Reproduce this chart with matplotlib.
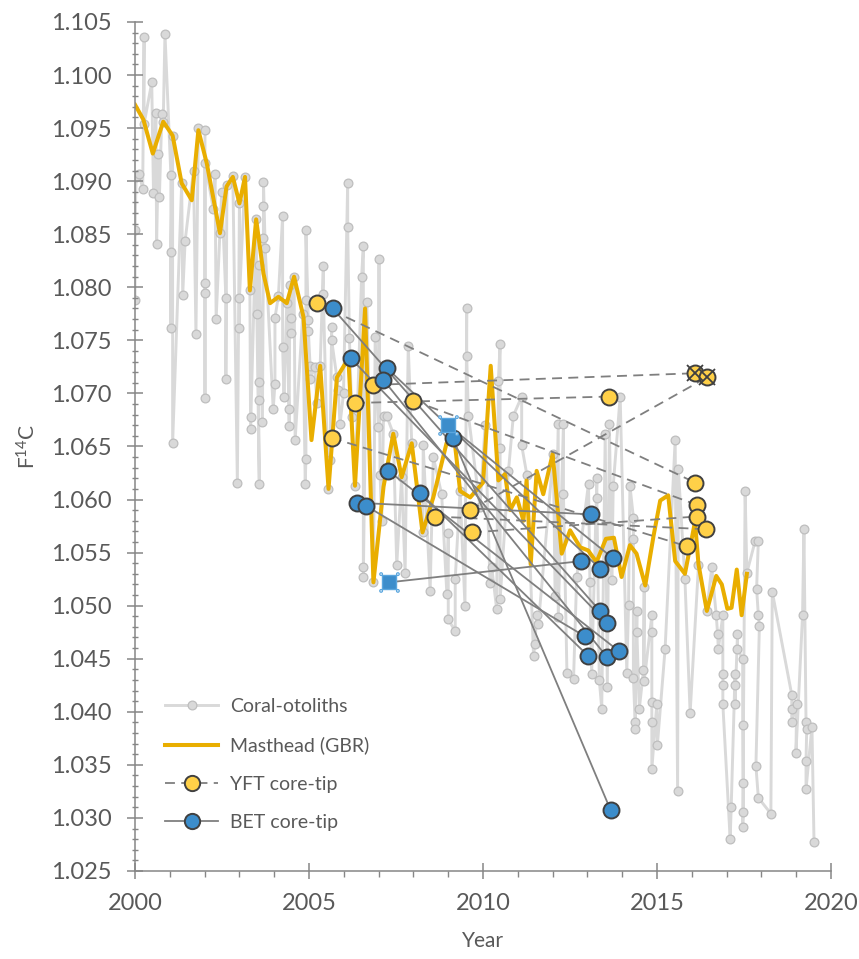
import matplotlib
matplotlib.use("Agg")
import matplotlib.pyplot as plt
from matplotlib.lines import Line2D
from matplotlib.path import Path
from matplotlib.ticker import MultipleLocator, FormatStrFormatter

plt.rcParams['font.family'] = ['Lato', 'DejaVu Sans']
plt.rcParams['mathtext.fontset'] = 'custom'
plt.rcParams['mathtext.rm'] = 'Lato'

# Coral-otolith reference series (year, F14C)
coral_year = [
    2000.00, 2000.00, 2000.03, 2000.12, 2000.22, 2000.26, 2000.26, 2000.48, 2000.53, 2000.60,
    2000.62, 2000.67, 2000.70, 2000.77, 2000.81, 2000.86, 2001.03, 2001.03, 2001.03, 2001.08,
    2001.08, 2001.34, 2001.37, 2001.44, 2001.68, 2001.75, 2001.82, 2002.01, 2002.01, 2002.01,
    2002.01, 2002.01, 2002.25, 2002.30, 2002.33, 2002.44, 2002.49, 2002.61, 2002.61, 2002.64,
    2002.81, 2002.94, 2003.00, 2003.00, 2003.00, 2003.16, 2003.30, 2003.32, 2003.32, 2003.48,
    2003.50, 2003.57, 2003.55, 2003.57, 2003.57, 2003.66, 2003.69, 2003.69, 2003.69, 2003.74,
    2003.97, 2004.02, 2004.02, 2004.12, 2004.24, 2004.24, 2004.28, 2004.36, 2004.43, 2004.43,
    2004.45, 2004.48, 2004.48, 2004.57, 2004.60, 2004.82, 2004.89, 2004.91, 2004.91, 2004.91,
    2004.98, 2004.98, 2005.03, 2005.03, 2005.17, 2005.22, 2005.32, 2005.41, 2005.41, 2005.55,
    2005.60, 2005.65, 2005.65, 2005.80, 2005.84, 2005.89, 2005.99, 2006.11, 2006.11, 2006.16,
    2006.23, 2006.32, 2006.51, 2006.56, 2006.56, 2006.56, 2006.66, 2006.85, 2006.90, 2006.99,
    2007.01, 2007.04, 2007.09, 2007.14, 2007.23, 2007.42, 2007.52, 2007.66, 2007.76, 2007.85,
    2007.95, 2008.27, 2008.28, 2008.48, 2008.57, 2008.81, 2008.96, 2009.00, 2009.00, 2009.20,
    2009.20, 2009.34, 2009.48, 2009.53, 2009.53, 2009.58, 2009.91, 2010.06, 2010.20, 2010.25,
    2010.39, 2010.44, 2010.49, 2010.49, 2010.49, 2010.73, 2010.87, 2011.11, 2011.11, 2011.26,
    2011.45, 2011.49, 2011.54, 2011.59, 2012.02, 2012.07, 2012.16, 2012.16, 2012.31, 2012.31,
    2012.41, 2012.60, 2012.69, 2013.03, 2013.07, 2013.12, 2013.27, 2013.27, 2013.34, 2013.41,
    2013.51, 2013.57, 2013.63, 2013.70, 2013.74, 2013.94, 2014.13, 2014.18, 2014.22, 2014.32,
    2014.32, 2014.32, 2014.37, 2014.37, 2014.42, 2014.42, 2014.49, 2014.61, 2014.63, 2014.63,
    2014.85, 2014.85, 2014.85, 2014.85, 2014.85, 2014.99, 2015.01, 2015.23, 2015.52, 2015.59,
    2015.61, 2015.80, 2015.95, 2016.19, 2016.43, 2016.57, 2016.70, 2016.74, 2016.76, 2016.89,
    2016.89, 2016.89, 2016.89, 2017.10, 2017.13, 2017.24, 2017.24, 2017.24, 2017.31, 2017.31,
    2017.46, 2017.46, 2017.48, 2017.48, 2017.46, 2017.53, 2017.58, 2017.82, 2017.91, 2017.86,
    2017.91, 2017.94, 2017.84, 2017.91, 2018.27, 2018.31, 2018.87, 2018.87, 2018.87, 2019.01,
    2018.99, 2019.18, 2019.22, 2019.28, 2019.30, 2019.28, 2019.28, 2019.45, 2019.51,
]
coral_f14c = [
    1.0788, 1.0854, 1.0904, 1.0907, 1.0893, 1.1036, 1.0954, 1.0993, 1.0889, 1.0964,
    1.0841, 1.0926, 1.0885, 1.0963, 1.0956, 1.1039, 1.0906, 1.0762, 1.0833, 1.0943,
    1.0653, 1.0898, 1.0793, 1.0844, 1.0910, 1.0756, 1.0950, 1.0948, 1.0696, 1.0795,
    1.0804, 1.0917, 1.0874, 1.0907, 1.0770, 1.0851, 1.0890, 1.0790, 1.0714, 1.0896,
    1.0905, 1.0616, 1.0879, 1.0762, 1.0790, 1.0904, 1.0797, 1.0678, 1.0666, 1.0864,
    1.0775, 1.0615, 1.0694, 1.0711, 1.0821, 1.0673, 1.0846, 1.0877, 1.0899, 1.0837,
    1.0685, 1.0709, 1.0771, 1.0792, 1.0867, 1.0744, 1.0697, 1.0785, 1.0669, 1.0685,
    1.0802, 1.0771, 1.0757, 1.0810, 1.0656, 1.0775, 1.0615, 1.0638, 1.0788, 1.0854,
    1.0769, 1.0759, 1.0726, 1.0714, 1.0725, 1.0691, 1.0726, 1.0820, 1.0794, 1.0610,
    1.0637, 1.0763, 1.0750, 1.0715, 1.0703, 1.0671, 1.0700, 1.0898, 1.0857, 1.0752,
    1.0678, 1.0613, 1.0810, 1.0839, 1.0536, 1.0527, 1.0786, 1.0522, 1.0753, 1.0668,
    1.0827, 1.0623, 1.0580, 1.0679, 1.0679, 1.0662, 1.0538, 1.0621, 1.0531, 1.0745,
    1.0653, 1.0569, 1.0651, 1.0514, 1.0640, 1.0605, 1.0511, 1.0568, 1.0487, 1.0476,
    1.0525, 1.0608, 1.0500, 1.0780, 1.0735, 1.0679, 1.0593, 1.0670, 1.0521, 1.0536,
    1.0497, 1.0712, 1.0747, 1.0649, 1.0506, 1.0627, 1.0679, 1.0697, 1.0651, 1.0623,
    1.0453, 1.0464, 1.0491, 1.0483, 1.0643, 1.0509, 1.0671, 1.0489, 1.0671, 1.0605,
    1.0437, 1.0431, 1.0527, 1.0615, 1.0522, 1.0436, 1.0620, 1.0601, 1.0430, 1.0403,
    1.0662, 1.0423, 1.0671, 1.0524, 1.0613, 1.0697, 1.0437, 1.0501, 1.0613, 1.0583,
    1.0563, 1.0432, 1.0390, 1.0384, 1.0495, 1.0475, 1.0403, 1.0439, 1.0518, 1.0429,
    1.0491, 1.0475, 1.0409, 1.0390, 1.0346, 1.0407, 1.0369, 1.0459, 1.0656, 1.0325,
    1.0629, 1.0525, 1.0399, 1.0538, 1.0495, 1.0536, 1.0491, 1.0473, 1.0459, 1.0491,
    1.0436, 1.0425, 1.0407, 1.0280, 1.0310, 1.0436, 1.0425, 1.0407, 1.0473, 1.0459,
    1.0450, 1.0388, 1.0333, 1.0306, 1.0291, 1.0608, 1.0531, 1.0561, 1.0561, 1.0516,
    1.0491, 1.0481, 1.0349, 1.0319, 1.0304, 1.0513, 1.0416, 1.0403, 1.0390, 1.0407,
    1.0361, 1.0491, 1.0572, 1.0390, 1.0384, 1.0354, 1.0327, 1.0386, 1.0277,
]

# Masthead (GBR) coral record
mast_year = [
    2000.00, 2000.24, 2000.51, 2000.81, 2001.08, 2001.34, 2001.63, 2001.82, 2002.06, 2002.44,
    2002.63, 2002.81, 2003.00, 2003.16, 2003.30, 2003.48, 2003.69, 2003.88, 2004.12, 2004.36,
    2004.57, 2004.84, 2005.07, 2005.32, 2005.56, 2005.80, 2006.13, 2006.32, 2006.61, 2006.85,
    2007.14, 2007.42, 2007.66, 2007.95, 2008.26, 2008.57, 2008.95, 2009.15, 2009.34, 2009.63,
    2010.00, 2010.22, 2010.44, 2010.63, 2010.78, 2010.97, 2011.16, 2011.25, 2011.37, 2011.54,
    2011.73, 2012.00, 2012.26, 2012.50, 2012.79, 2013.02, 2013.26, 2013.53, 2013.76, 2013.98,
    2014.22, 2014.41, 2014.66, 2014.90, 2015.09, 2015.32, 2015.52, 2015.80, 2016.09, 2016.19,
    2016.43, 2016.70, 2016.86, 2017.02, 2017.14, 2017.29, 2017.43, 2017.58,
]
mast_f14c = [
    1.0972, 1.0958, 1.0926, 1.0956, 1.0943, 1.0898, 1.0882, 1.0948, 1.0917, 1.0851,
    1.0895, 1.0904, 1.0879, 1.0904, 1.0797, 1.0864, 1.0813, 1.0785, 1.0791, 1.0785,
    1.0810, 1.0772, 1.0656, 1.0726, 1.0610, 1.0715, 1.0733, 1.0613, 1.0780, 1.0522,
    1.0612, 1.0662, 1.0621, 1.0653, 1.0569, 1.0602, 1.0653, 1.0665, 1.0608, 1.0602,
    1.0616, 1.0726, 1.0618, 1.0624, 1.0590, 1.0602, 1.0580, 1.0618, 1.0539, 1.0627,
    1.0605, 1.0643, 1.0549, 1.0571, 1.0555, 1.0552, 1.0541, 1.0563, 1.0564, 1.0527,
    1.0557, 1.0549, 1.0519, 1.0566, 1.0599, 1.0604, 1.0542, 1.0530, 1.0579, 1.0539,
    1.0495, 1.0528, 1.0520, 1.0497, 1.0498, 1.0534, 1.0491, 1.0530,
]

# YFT core-tip pairs
yft_core_year = [2005.22, 2006.85, 2006.32, 2005.65, 2008.00, 2009.63, 2009.68, 2008.62]
yft_core_f14c = [1.0785, 1.0708, 1.0691, 1.0658, 1.0693, 1.0590, 1.0569, 1.0584]
yft_tip_year = [2016.09, 2016.09, 2013.62, 2015.85, 2016.14, 2016.43, 2016.14, 2016.41]
yft_tip_f14c = [1.0616, 1.0719, 1.0697, 1.0556, 1.0595, 1.0715, 1.0584, 1.0572]
yft_crossed = [False, True, False, False, False, True, False, False]

# BET core-tip pairs
bet_core_year = [2005.68, 2006.20, 2007.23, 2007.13, 2009.00, 2009.13, 2007.28, 2008.20,
                 2006.37, 2006.64, 2007.31]
bet_core_f14c = [1.0780, 1.0733, 1.0724, 1.0713, 1.0670, 1.0658, 1.0627, 1.0606,
                 1.0597, 1.0594, 1.0522]
bet_tip_year = [2013.36, 2013.55, 2013.36, 2013.55, 2013.72, 2013.67, 2013.91, 2013.01,
                2013.10, 2012.93, 2012.82]
bet_tip_f14c = [1.0495, 1.0484, 1.0535, 1.0452, 1.0545, 1.0307, 1.0457, 1.0453,
                1.0586, 1.0471, 1.0542]
bet_square = [False, False, False, False, True, False, False, False, False, False, True]

GRAY = '#D9D9D9'
GOLD = '#E9AE00'
YEL = '#FFD048'
BLUE = '#3C8DCB'
EDGE = '#404040'
LINK = '#7F7F7F'
TXT = '#595959'
AX = '#868686'

fig = plt.figure(figsize=(8.59, 9.59), dpi=100)
ax = fig.add_axes([0.1572, 0.0918, 0.8103, 0.8853])

ax.plot(coral_year, coral_f14c, color=GRAY, lw=2.1, marker='o', ms=6.3,
        mfc=GRAY, mec='#BEBEBE', mew=0.9, zorder=1)
ax.plot(mast_year, mast_f14c, color=GOLD, lw=2.9, zorder=2)

for i in range(len(yft_core_year)):
    ax.plot([yft_core_year[i], yft_tip_year[i]], [yft_core_f14c[i], yft_tip_f14c[i]],
            color=LINK, lw=1.3, dashes=(5.5, 3.5), zorder=3)
for i in range(len(bet_core_year)):
    ax.plot([bet_core_year[i], bet_tip_year[i]], [bet_core_f14c[i], bet_tip_f14c[i]],
            color=LINK, lw=1.3, zorder=3)

mk = dict(ls='none', ms=11.5, mew=1.4, mec=EDGE, zorder=5)
ax.plot(yft_core_year + yft_tip_year, yft_core_f14c + yft_tip_f14c,
        marker='o', mfc=YEL, **mk)
cx = [yft_tip_year[i] for i in range(len(yft_tip_year)) if yft_crossed[i]]
cy = [yft_tip_f14c[i] for i in range(len(yft_tip_f14c)) if yft_crossed[i]]
ax.plot(cx, cy, ls='none', marker='x', ms=11, mew=1.3, color=EDGE, zorder=6)

bx = [bet_core_year[i] for i in range(len(bet_core_year)) if not bet_square[i]] + bet_tip_year
by = [bet_core_f14c[i] for i in range(len(bet_core_f14c)) if not bet_square[i]] + bet_tip_f14c
ax.plot(bx, by, marker='o', mfc=BLUE, **mk)
sx = [bet_core_year[i] for i in range(len(bet_core_year)) if bet_square[i]]
sy = [bet_core_f14c[i] for i in range(len(bet_core_f14c)) if bet_square[i]]
ax.plot(sx, sy, ls='none', marker='s', ms=10, mfc=BLUE, mec='#5AA6DE', mew=1.0, zorder=5)
handles = Path.make_compound_path(*[Path.circle((a, b), 0.16)
                                    for a in (-1, 1) for b in (-1, 1)])
ax.plot(sx, sy, ls='none', marker=handles, ms=14, mfc='white', mec='#5AA6DE',
        mew=0.9, zorder=6)

ax.set_xlim(2000, 2020)
ax.set_ylim(1.025, 1.105)
ax.xaxis.set_major_locator(MultipleLocator(5))
ax.xaxis.set_minor_locator(MultipleLocator(1))
ax.yaxis.set_major_locator(MultipleLocator(0.005))
ax.yaxis.set_minor_locator(MultipleLocator(0.001))
ax.yaxis.set_major_formatter(FormatStrFormatter('%.3f'))

for s in ('top', 'right'):
    ax.spines[s].set_visible(False)
for s in ('left', 'bottom'):
    ax.spines[s].set_color(AX)
    ax.spines[s].set_linewidth(1.1)

ax.tick_params(axis='both', which='major', direction='inout', length=12, width=1.1,
               color=AX, labelcolor=TXT, labelsize=17)
ax.tick_params(axis='y', which='major', pad=11)
ax.tick_params(axis='x', which='major', pad=10)
ax.tick_params(axis='y', which='minor', direction='inout', length=5, width=1.0, color=AX)
ax.tick_params(axis='x', which='minor', direction='out', length=4.5, width=1.0, color=AX)

ax.set_xlabel('Year', fontsize=15, color=TXT, labelpad=12)
ax.set_ylabel(r'$\mathregular{F^{14}C}$', fontsize=15, color=TXT, labelpad=8)

leg_handles = [
    Line2D([], [], color=GRAY, lw=2.1, marker='o', ms=6.3, mfc=GRAY, mec='#BEBEBE', mew=0.9),
    Line2D([], [], color=GOLD, lw=2.9),
    Line2D([], [], color=LINK, lw=1.3, dashes=(5.5, 3.5), marker='o', ms=11, mfc=YEL,
           mec=EDGE, mew=1.4),
    Line2D([], [], color=LINK, lw=1.3, marker='o', ms=11, mfc=BLUE, mec=EDGE, mew=1.4),
]
leg = ax.legend(leg_handles, ['Coral-otoliths', 'Masthead (GBR)', 'YFT core-tip', 'BET core-tip'],
                loc='upper left', bbox_to_anchor=(0.192, 0.272), bbox_transform=fig.transFigure,
                frameon=False, fontsize=14, handlelength=2.75, handletextpad=0.6,
                labelspacing=1.1, borderpad=0, borderaxespad=0)
for t in leg.get_texts():
    t.set_color(TXT)

fig.savefig('out.png', dpi=100)
